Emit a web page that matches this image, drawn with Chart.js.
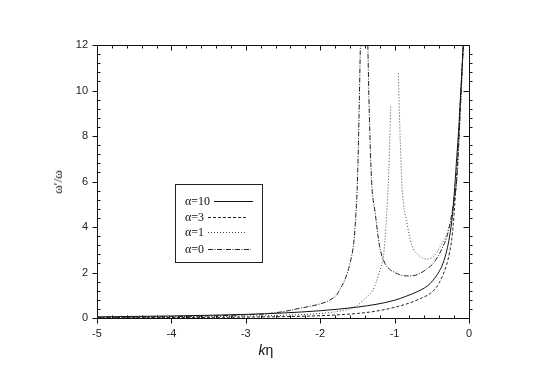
<!DOCTYPE html>
<html>
<head>
<meta charset="utf-8">
<script src="https://cdn.jsdelivr.net/npm/chart.js@4/dist/chart.umd.min.js"></script>
<style>
  html, body { margin: 0; padding: 0; background: #fff; }
  #wrap { position: relative; width: 545px; height: 382px; }
  canvas { position: absolute; left: 0; top: 0; }
  .ovl { position: absolute; color: #111; white-space: nowrap; }
  #ytitle { left: 58px; top: 182px; transform: translate(-50%, -50%) rotate(-90deg); font-family: "Liberation Serif", serif; font-size: 13px; }
  #xtitle { left: 266px; top: 350px; transform: translate(-50%, -50%); font-family: "Liberation Sans", Arial, sans-serif; font-size: 14px; }
  #legend { position: absolute; left: 175px; top: 184px; width: 86px; height: 77px; border: 1px solid #222; background: #fff; }
  .lrow { position: absolute; left: 9px; height: 14px; font-family: "Liberation Serif", serif; font-size: 12px; line-height: 14px; color: #111; }
  .lrow svg { position: absolute; top: 0; }
</style>
</head>
<body>
<div id="wrap">
  <canvas id="c" width="545" height="382"></canvas>
  <div id="ytitle" class="ovl">ω′/ω</div>
  <div id="xtitle" class="ovl"><i>k</i>η</div>
  <div id="legend">
    <div class="lrow" style="top:9px">α=10<svg style="left:29px" width="40" height="14"><line x1="0" y1="7.5" x2="39" y2="7.5" stroke="#111" stroke-width="1"/></svg></div>
    <div class="lrow" style="top:25px">α=3<svg style="left:23px" width="40" height="14"><line x1="0" y1="7.5" x2="39" y2="7.5" stroke="#222" stroke-width="1" stroke-dasharray="3,2"/></svg></div>
    <div class="lrow" style="top:40px">α=1<svg style="left:23px" width="40" height="14"><line x1="0" y1="7.5" x2="39" y2="7.5" stroke="#444" stroke-width="1" stroke-dasharray="1,2"/></svg></div>
    <div class="lrow" style="top:57px">α=0<svg style="left:23px" width="44" height="14"><line x1="0" y1="7.5" x2="43" y2="7.5" stroke="#222" stroke-width="1" stroke-dasharray="5,1.5,1,1.5"/></svg></div>
  </div>
</div>
<script>
// ---- data ----
const xTicks = [-5, -4, -3, -2, -1, 0];
const yTicks = [0, 2, 4, 6, 8, 10, 12];

const alpha10X = [-5,-4.5,-4,-3.5,-3,-2.5,-2,-1.75,-1.5,-1.25,-1,-0.85,-0.7,-0.6,-0.52,-0.45,-0.4,-0.35,-0.3,-0.26,-0.23,-0.2,-0.17,-0.14,-0.12,-0.1,-0.077];
const alpha10Y = [0.05,0.07,0.09,0.12,0.16,0.22,0.32,0.39,0.48,0.6,0.78,0.95,1.15,1.32,1.52,1.8,2.05,2.4,2.95,3.6,4.3,5.4,6.8,8.2,9.4,10.6,12];

const alpha3X = [-5,-4,-3,-2.5,-2,-1.75,-1.5,-1.25,-1,-0.8,-0.65,-0.52,-0.45,-0.4,-0.35,-0.3,-0.26,-0.23,-0.2,-0.17,-0.14,-0.12,-0.1,-0.077];
const alpha3Y = [0.01,0.02,0.04,0.06,0.1,0.14,0.2,0.3,0.47,0.66,0.86,1.08,1.3,1.55,1.9,2.35,2.9,3.5,4.6,6.1,7.8,9.2,10.5,12];

const alpha1LeftX = [-5,-4.5,-4,-3.5,-3,-2.5,-2,-1.8,-1.65,-1.5,-1.42,-1.35,-1.29,-1.25,-1.21,-1.18,-1.15,-1.13,-1.106,-1.085,-1.07,-1.053];
const alpha1LeftY = [0.02,0.03,0.04,0.06,0.08,0.12,0.2,0.27,0.36,0.55,0.79,1.0,1.23,1.55,1.96,2.3,2.7,3.4,4.6,5.85,7.2,9.3];
const alpha1RightX = [-0.95,-0.93,-0.905,-0.88,-0.84,-0.79,-0.75,-0.68,-0.62,-0.57,-0.52,-0.48,-0.43,-0.39,-0.35,-0.3,-0.26,-0.23,-0.19,-0.165,-0.14,-0.12,-0.1,-0.077];
const alpha1RightY = [10.75,8.4,6.07,5.0,4.3,3.43,3.05,2.77,2.63,2.59,2.62,2.7,2.9,3.13,3.35,3.65,4.1,4.45,5.33,6.07,7.5,8.9,10.3,12];

const alpha0LeftX = [-5,-4.5,-4,-3.5,-3,-2.75,-2.5,-2.27,-2,-1.87,-1.77,-1.74,-1.67,-1.6,-1.545,-1.52,-1.5,-1.48,-1.46];
const alpha0LeftY = [0.03,0.04,0.06,0.09,0.14,0.18,0.28,0.43,0.62,0.79,1.05,1.23,1.67,2.4,3.43,4.6,5.95,8.6,12];
const alpha0RightX = [-1.36,-1.34,-1.31,-1.26,-1.2,-1.13,-1.07,-1.02,-0.93,-0.84,-0.75,-0.66,-0.57,-0.48,-0.42,-0.35,-0.3,-0.255,-0.21,-0.165,-0.14,-0.12,-0.1,-0.077];
const alpha0RightY = [12,9,6.07,4.6,3.13,2.4,2.15,2.04,1.9,1.85,1.86,1.96,2.15,2.4,2.7,3.13,3.55,4.16,5.0,6.07,7.5,8.9,10.3,12];

function pts(xs, ys) { return xs.map((x, i) => ({ x: x, y: ys[i] })); }

function ds(label, xs, ys, color, dash) {
  return {
    label: label, data: pts(xs, ys), borderColor: color, borderWidth: 1,
    borderDash: dash, pointRadius: 0, fill: false,
    cubicInterpolationMode: 'monotone', clip: 2
  };
}

const frameTicks = {
  id: 'frameTicks',
  afterDraw(chart) {
    const ctx = chart.ctx, a = chart.chartArea;
    const xs = chart.scales.x, ys = chart.scales.y;
    ctx.save();
    ctx.strokeStyle = '#111';
    ctx.lineWidth = 1;
    ctx.beginPath();
    ctx.rect(Math.round(a.left) + 0.5, Math.round(a.top) + 0.5, Math.round(a.right - a.left), Math.round(a.bottom - a.top));
    ctx.stroke();
    ctx.beginPath();
    const L = Math.round(a.left) + 0.5, R = Math.round(a.right) + 0.5, T = Math.round(a.top) + 0.5, B = Math.round(a.bottom) + 0.5;
    for (let i = 0; i <= 25; i++) {
      const v = xTicks[0] + i * 0.2;
      const p = Math.round(xs.getPixelForValue(v)) + 0.5;
      const major = i % 5 === 0;
      if (major) {
        ctx.moveTo(p, B); ctx.lineTo(p, B + 5);
        ctx.moveTo(p, T); ctx.lineTo(p, T + 5);
      } else {
        ctx.moveTo(p, B); ctx.lineTo(p, B - 3);
        ctx.moveTo(p, T); ctx.lineTo(p, T + 3);
      }
    }
    for (let i = 0; i <= 30; i++) {
      const v = yTicks[0] + i * 0.4;
      const p = Math.round(ys.getPixelForValue(v)) + 0.5;
      const major = i % 5 === 0;
      if (major) {
        ctx.moveTo(L, p); ctx.lineTo(L - 5, p);
        ctx.moveTo(R, p); ctx.lineTo(R - 6, p);
      } else {
        ctx.moveTo(L, p); ctx.lineTo(L + 3, p);
        ctx.moveTo(R, p); ctx.lineTo(R + 3, p);
      }
    }
    ctx.stroke();
    ctx.restore();
  }
};

new Chart(document.getElementById('c'), {
  type: 'line',
  data: {
    datasets: [
      ds('α=10', alpha10X, alpha10Y, '#111', []),
      ds('α=3', alpha3X, alpha3Y, '#222', [3, 2]),
      ds('α=1', alpha1LeftX, alpha1LeftY, '#444', [1, 2]),
      ds('α=1', alpha1RightX, alpha1RightY, '#444', [1, 2]),
      ds('α=0', alpha0LeftX, alpha0LeftY, '#222', [5, 1.5, 1, 1.5]),
      ds('α=0', alpha0RightX, alpha0RightY, '#222', [5, 1.5, 1, 1.5])
    ]
  },
  options: {
    responsive: false,
    animation: false,
    layout: { padding: { left: 0, top: 45, right: 76, bottom: 0 } },
    plugins: { legend: { display: false }, tooltip: { enabled: false } },
    scales: {
      x: {
        type: 'linear', min: -5, max: 0,
        grid: { display: false, drawTicks: false },
        border: { display: false },
        afterFit: s => { s.height = 64; },
        afterBuildTicks: s => { s.ticks = xTicks.map(v => ({ value: v })); },
        ticks: { padding: 9, color: '#222', font: { family: '"Liberation Sans", Arial, sans-serif', size: 11 }, maxRotation: 0 }
      },
      y: {
        type: 'linear', min: 0, max: 12,
        grid: { display: false, drawTicks: false },
        border: { display: false },
        afterFit: s => { s.width = 97; },
        afterBuildTicks: s => { s.ticks = yTicks.map(v => ({ value: v })); },
        ticks: { padding: 9, color: '#222', font: { family: '"Liberation Sans", Arial, sans-serif', size: 11 } }
      }
    }
  },
  plugins: [frameTicks]
});
</script>
</body>
</html>
